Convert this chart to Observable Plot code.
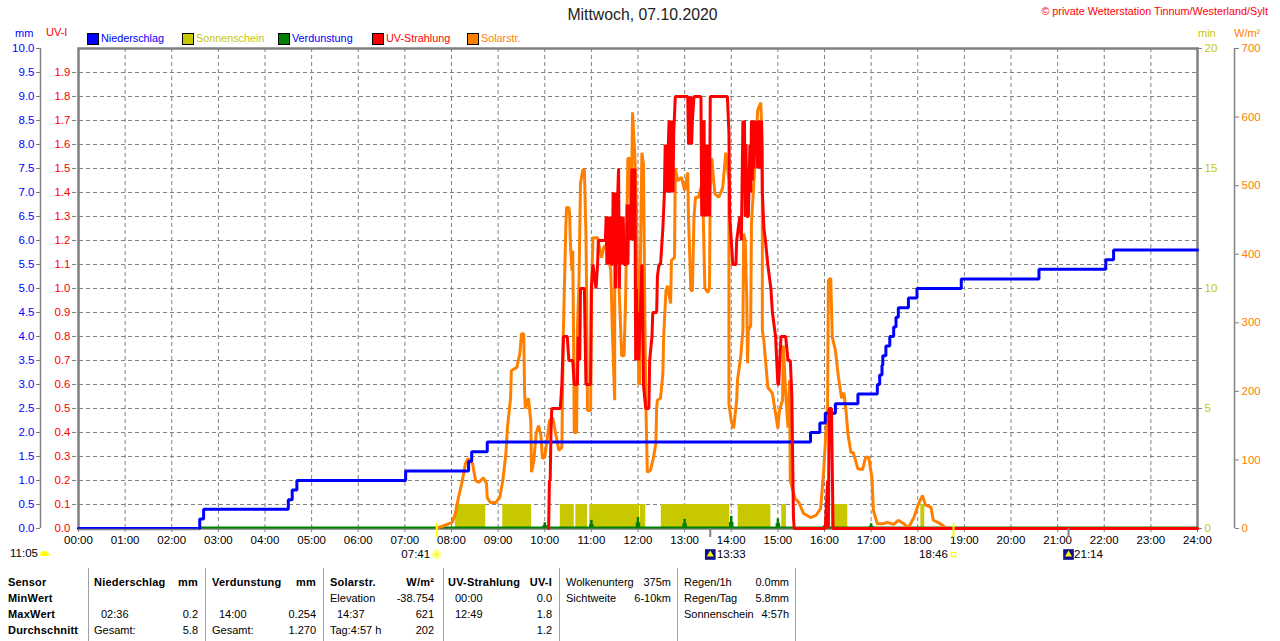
<!DOCTYPE html>
<html><head><meta charset="utf-8">
<script src="https://cdn.jsdelivr.net/npm/d3@7"></script>
<script src="https://cdn.jsdelivr.net/npm/@observablehq/plot@0.6"></script>
<style>
html,body{margin:0;padding:0;background:#fff;width:1280px;height:641px;overflow:hidden}
#page{position:relative;width:1280px;height:641px;font-family:"Liberation Sans",Arial,sans-serif;font-size:11px}
#page svg{position:absolute;left:0;top:0;background:transparent}
.t{position:absolute;white-space:nowrap;line-height:1;transform:translateY(-50%)}
.r{transform:translate(-100%,-50%)}
.c{transform:translate(-50%,-50%)}
.b{font-weight:bold;letter-spacing:.2px}
.sw{position:absolute;width:10px;height:10px;border:1px solid #000;box-sizing:content-box}
.sep{position:absolute;width:1px;top:568px;height:73px;background:#a0a0a0}
</style></head><body><div id="page"></div>
<script>
const BLUE="#0000ff",RED="#ff0000",ORANGE="#ff8000",OLIVE="#c8c800",GREEN="#008000",GRAY="#808080",YELLOW="#ffff00";

// Niederschlag (cumulative mm), minutes after midnight
const rainMin=[0,156,161,270,275,281,421,502,506,526,942,954,961,974,1003,1028,1031,1034,1035,1039,1044,1049,1052,1055,1068,1079,1136,1236,1322,1332,1440];
const rainMm=[0,0.2,0.4,0.6,0.8,1.0,1.2,1.4,1.6,1.8,2.0,2.2,2.4,2.6,2.8,3.0,3.2,3.4,3.6,3.8,4.0,4.2,4.4,4.6,4.8,5.0,5.2,5.4,5.6,5.8,5.8];

// Solarstrahlung W/m2
const solarMin=[462,470,481,485,489,494,498,501,507,511,515,521,525,526,530,537,542,546,550,552,556,557,564,568,570,573,574,575,579,582,583,586,589,592,595,597,600,602,606,610,615,618,622,623,624,626,627,628,631,632,633,635,636,637,638,641,642,644,646,649,651,653,654,655,659,660,662,668,673,676,681,682,685,687,690,690,694,699,702,704,707,709,711,713,716,718,721,722,723,725,727,729,730,732,736,740,743,744,745,749,752,753,756,758,762,763,767,768,771,776,780,784,785,788,790,792,794,798,801,804,806,810,812,813,815,817,819,824,829,833,837,837,837,840,843,847,848,852,855,856,858,860,861,862,865,866,870,874,878,880,880,882,887,893,897,900,902,906,907,910,913,915,916,922,927,933,942,949,955,959,961,964,965,968,970,974,978,982,985,988,990,994,997,1003,1009,1013,1017,1021,1023,1028,1035,1041,1049,1055,1062,1068,1075,1081,1086,1090,1097,1100,1109,1116,1120];
const solarW=[1,4,9,22,45,70,95,102,95,70,67,74,66,45,38,38,45,70,109,147,190,230,235,255,284,284,201,175,190,157,82,99,139,150,136,102,104,121,157,162,133,114,118,206,289,386,435,468,468,459,416,376,405,289,140,140,289,357,503,523,523,430,332,172,172,332,424,424,395,410,416,395,376,289,187,401,401,252,252,332,540,540,442,607,541,464,211,211,386,548,532,289,187,82,85,104,124,176,187,190,226,279,347,354,328,391,395,525,507,512,493,519,453,347,347,453,483,483,497,453,351,344,351,497,540,512,488,483,497,548,507,289,182,157,146,187,216,249,289,430,420,332,241,289,296,445,522,610,621,556,289,274,206,197,168,146,172,187,267,197,147,216,70,44,38,22,16,19,29,85,124,182,362,365,279,260,220,190,198,168,139,111,111,87,86,104,104,74,26,7,7,9,6,12,7,1,16,36,48,34,31,12,7,1,0];

// UV-Strahlung UV-Index
const uvMin=[605,606,607,608,609,620,622,624,629,631,636,638,642,643,645,646,651,653,659,660,662,666,668,669,678,679,680,681,682,683,684,685,686,687,688,689,690,691,692,693,694,695,696,697,698,699,700,701,702,705,706,707,708,709,710,711,712,713,714,715,716,717,718,719,720,721,725,726,727,730,734,735,738,739,744,745,747,749,752,754,755,756,757,758,759,760,761,762,763,764,765,766,768,784,785,786,787,788,789,790,792,801,802,803,804,805,806,807,808,809,810,811,812,813,835,837,838,840,842,846,847,851,853,855,856,857,858,859,860,862,864,865,866,867,868,869,870,871,872,874,875,876,877,878,879,880,882,884,887,891,893,897,900,901,904,910,913,916,918,919,920,921,961,964,965,966,969,971,1440];
const uvI=[0,0.2,0.2,0.4,0.5,0.5,0.6,0.8,0.8,0.7,0.7,0.6,0.6,0.8,0.7,1.0,1.0,0.6,0.6,1.0,1.1,1.0,1.1,1.2,1.2,1.3,1.1,1.3,1.1,1.3,1.1,1.3,1.1,1.1,1.4,1.1,1.4,1.0,1.4,1.1,1.4,1.5,1.0,1.3,1.1,1.3,1.1,1.3,1.1,1.1,1.35,1.1,1.35,1.2,1.35,1.2,1.5,1.2,1.5,1.2,1.5,0.7,1.0,0.7,0.9,0.7,1.1,0.9,0.6,0.5,0.5,0.7,0.8,0.9,0.9,1.05,1.1,1.1,1.25,1.4,1.6,1.4,1.6,1.4,1.6,1.7,1.4,1.7,1.4,1.7,1.4,1.65,1.8,1.8,1.6,1.8,1.7,1.8,1.6,1.7,1.8,1.8,1.3,1.7,1.3,1.7,1.3,1.6,1.3,1.6,1.3,1.6,1.3,1.8,1.8,1.65,1.3,1.2,1.1,1.1,1.2,1.3,1.2,1.7,1.4,1.7,1.3,1.6,1.3,1.3,1.6,1.4,1.7,1.45,1.7,1.5,1.7,1.55,1.7,1.5,1.7,1.5,1.7,1.5,1.7,1.4,1.25,1.2,1.1,1.0,0.9,0.8,0.6,0.6,0.8,0.8,0.7,0.7,0.55,0.3,0.05,0,0,0.2,0,0.5,0.5,0,0];

// Sonnenschein, minutes per minute bar (start, end)
const sunStart=[485,546,620,640,658,723,750,849,905,969,1084];
const sunEnd=[524,583,638,655,722,730,838,891,911,990,1089];
const sunValue=1;

// Verdunstung mm per hour
const evapMin=[540,600,660,720,780,840,900,960,1020,1380];
const evapMm=[0.02,0.12,0.17,0.23,0.19,0.254,0.20,0.06,0.10,0.01];
const evapBaselineStart=156;

const hourTicks=d3.range(0,1441,60);
const mmTicks=d3.range(0,10.01,0.5);
const uvTicks=d3.range(0,9.51,0.5);
const minuteAxis=[0,5,10,15,20];
const wattAxis=[0,100,200,300,400,500,600,700];

const pad=n=>String(n).padStart(2,"0");
const rows=(xs,ys)=>xs.map((x,i)=>({x,y:ys[i]}));
const rain=rows(rainMin,rainMm);
const solar=rows(solarMin,solarW.map(w=>w/70));
const uv=rows(uvMin,uvI.map(u=>u*5));
const sun=sunStart.map((s,i)=>({s,e:sunEnd[i],v:sunValue/2}));
const evap=rows(evapMin,evapMm);

// astronomical events
const sunrise=461, sunset=1126, moonset=813, moonrise=1274;

const FONT='"Liberation Sans",Arial,sans-serif';
const chart=Plot.plot({
  width:1280,height:566,marginLeft:78,marginRight:83,marginTop:48,marginBottom:38,
  style:{fontFamily:FONT,fontSize:"11.5px",background:"transparent",overflow:"visible"},
  x:{domain:[0,1440],axis:null},
  y:{domain:[0,10],axis:null},
  marks:[
    Plot.ruleY(mmTicks.slice(1,-1),{stroke:GRAY,strokeWidth:1,strokeDasharray:"4,3",x1:0,x2:1440,insetLeft:-6}),
    Plot.ruleX(hourTicks.slice(1,-1),{stroke:GRAY,strokeWidth:1,strokeDasharray:"4,3"}),
    Plot.frame({stroke:GRAY,strokeWidth:2.5}),
    Plot.axisX({ticks:hourTicks,tickFormat:d=>pad(d/60)+":00",tickSize:4,tickPadding:3,stroke:GRAY,fill:"#000",label:null,fontSize:11.5}),
    // left mm axis
    Plot.ruleX([0],{dx:-38,stroke:GRAY,strokeWidth:1.5}),
    Plot.axisY({anchor:"left",ticks:mmTicks,tickFormat:d=>d.toFixed(1),tickSize:4,tickPadding:2,dx:-38,stroke:GRAY,fill:BLUE,label:null,fontSize:11.5}),
    Plot.axisY({anchor:"left",ticks:uvTicks,tickFormat:d=>(d/5).toFixed(1),tickSize:0,tickPadding:8,stroke:GRAY,fill:RED,label:null,fontSize:11.5}),
    // right axes
    Plot.axisY({anchor:"right",ticks:minuteAxis.map(d=>d/2),tickFormat:d=>String(d*2),tickSize:4,tickPadding:3,stroke:GRAY,fill:OLIVE,label:null,fontSize:11.5}),
    Plot.ruleX([1440],{dx:37,stroke:GRAY,strokeWidth:1.5}),
    Plot.axisY({anchor:"right",ticks:wattAxis.map(d=>d/70),tickFormat:d=>String(Math.round(d*70)),tickSize:4,tickPadding:3,dx:37,stroke:GRAY,fill:ORANGE,label:null,fontSize:11.5}),
    // sunshine
    Plot.rectY(sun,{x1:"s",x2:"e",y1:0,y2:"v",fill:OLIVE}),
    // evaporation
    Plot.ruleX(evap,{x:"x",y1:0,y2:"y",stroke:GREEN,strokeWidth:2.5}),
    Plot.ruleX(evap,{x:"x",y1:0,y2:d=>d.y*0.5,stroke:GREEN,strokeWidth:4.5}),
    Plot.ruleY([0],{x1:evapBaselineStart,x2:1440,stroke:GREEN,strokeWidth:2,dy:-1}),
    // series
    Plot.line(solar,{x:"x",y:"y",stroke:ORANGE,strokeWidth:3,curve:"linear",strokeLinejoin:"miter"}),
    Plot.line(rain,{x:"x",y:"y",stroke:BLUE,strokeWidth:3,curve:"step-after",strokeLinejoin:"miter"}),
    Plot.ruleY([0],{x1:0,x2:evapBaselineStart,stroke:GRAY,strokeWidth:1.5,dy:1}),
    Plot.line(uv,{x:"x",y:"y",stroke:RED,strokeWidth:3,curve:"linear",strokeLinejoin:"miter"}),
    // sunrise/sunset/moon markers
    Plot.ruleX([sunrise,sunset],{y1:0,y2:0,insetBottom:-9,insetTop:-5,stroke:YELLOW,strokeWidth:2}),
    Plot.ruleX([moonset,moonrise],{y1:0,y2:0,insetBottom:-9,insetTop:0,stroke:GRAY,strokeWidth:2}),
    Plot.text([sunrise],{x:d=>d,y:0,text:()=>"07:41",dx:-21,dy:26,fill:"#000",fontSize:11.5}),
    Plot.text([sunset],{x:d=>d,y:0,text:()=>"18:46",dx:-20,dy:26,fill:"#000",fontSize:11.5}),
    Plot.text([moonset],{x:d=>d,y:0,text:()=>"13:33",dx:21,dy:26,fill:"#000",fontSize:11.5}),
    Plot.text([moonrise],{x:d=>d,y:0,text:()=>"21:14",dx:20,dy:26,fill:"#000",fontSize:11.5}),
    Plot.dot([sunrise],{x:d=>d,y:0,dy:26,r:3.5,fill:YELLOW,stroke:"#ffffa0",strokeWidth:3}),
    Plot.dot([sunset],{x:d=>d,y:0,dy:26,r:2.5,fill:"#fff",stroke:YELLOW,strokeWidth:1.2,symbol:"square"}),
    Plot.dot([moonset,moonrise],{x:d=>d,y:0,dy:26,r:6,fill:"#10108c",symbol:"square"}),
    Plot.dot([moonset,moonrise],{x:d=>d,y:0,dy:26,r:2.6,fill:YELLOW,symbol:"triangle"})
  ]
});
const page=document.getElementById("page");
page.appendChild(chart);

function put(text,x,y,o={}){
  const e=document.createElement("div");
  e.className="t "+(o.cls||"");
  e.textContent=text;e.style.left=x+"px";e.style.top=y+"px";
  e.style.color=o.color||"#000";
  if(o.size)e.style.fontSize=o.size+"px";
  page.appendChild(e);return e;
}
// header
const chartTitle="Mittwoch, 07.10.2020";
const credit="© private Wetterstation Tinnum/Westerland/Sylt";
put(chartTitle,642.5,15,{cls:"c",size:15.8,color:"#222"});
put(credit,1268,11,{cls:"r",color:RED,size:10.8});
put("mm",15,33,{color:BLUE});put("UV-I",46,32,{color:RED});
put("min",1198,33,{color:OLIVE});put("W/m²",1234,33,{color:ORANGE});

const legendNames=["Niederschlag","Sonnenschein","Verdunstung","UV-Strahlung","Solarstr."];
const legendFill=[BLUE,OLIVE,GREEN,RED,ORANGE];
const legendText=[BLUE,OLIVE,BLUE,RED,ORANGE];
const legendX=[87,182,278,372,467];
legendNames.forEach((n,i)=>{
  const s=document.createElement("div");s.className="sw";
  s.style.left=legendX[i]+"px";s.style.top="33px";s.style.background=legendFill[i];page.appendChild(s);
  put(n,legendX[i]+14,38,{color:legendText[i],size:10.8});
});
// day length marker at left
put("11:05",10,554,{size:11.5});
const hs=document.createElement("div");
hs.style.cssText=`position:absolute;left:40px;top:551px;width:9px;height:5px;background:${YELLOW};border-radius:5px 5px 0 0`;
page.appendChild(hs);

// statistics table
const sepX=[88,205,323,443,559,677,795];
sepX.forEach(x=>{const s=document.createElement("div");s.className="sep";s.style.left=x+"px";page.appendChild(s)});
const rowY=[582,598,614,630];
const sensorRows=["Sensor","MinWert","MaxWert","Durchschnitt"];
sensorRows.forEach((s,i)=>put(s,8,rowY[i],{cls:"b"}));
const statHeads=[["Niederschlag","mm"],["Verdunstung","mm"],["Solarstr.","W/m²"],["UV-Strahlung","UV-I"]];
const statLeft=[["","02:36","Gesamt:"],["","14:00","Gesamt:"],["Elevation","14:37","Tag:4:57 h"],["00:00","12:49",""]];
const statRight=[["","0.2","5.8"],["","0.254","1.270"],["-38.754","621","202"],["0.0","1.8","1.2"]];
const headX=[94,212,330,448], rightX=[198,316,434,552];
statHeads.forEach((h,c)=>{
  put(h[0],headX[c],rowY[0],{cls:"b"});put(h[1],rightX[c],rowY[0],{cls:"b r"});
  statLeft[c].forEach((t,r)=>{
    const indented=/^\d\d:\d\d$/.test(t);
    put(t,headX[c]+(indented?7:0),rowY[r+1]);
    put(statRight[c][r],rightX[c],rowY[r+1],{cls:"r"});
  });
});
const cloudLabels=["Wolkenunterg","Sichtweite"],cloudValues=["375m","6-10km"];
cloudLabels.forEach((t,i)=>{put(t,566,rowY[i]);put(cloudValues[i],671,rowY[i],{cls:"r"})});
const rainLabels=["Regen/1h","Regen/Tag","Sonnenschein"],rainValues=["0.0mm","5.8mm","4:57h"];
rainLabels.forEach((t,i)=>{put(t,684,rowY[i]);put(rainValues[i],789,rowY[i],{cls:"r"})});
</script></body></html>
